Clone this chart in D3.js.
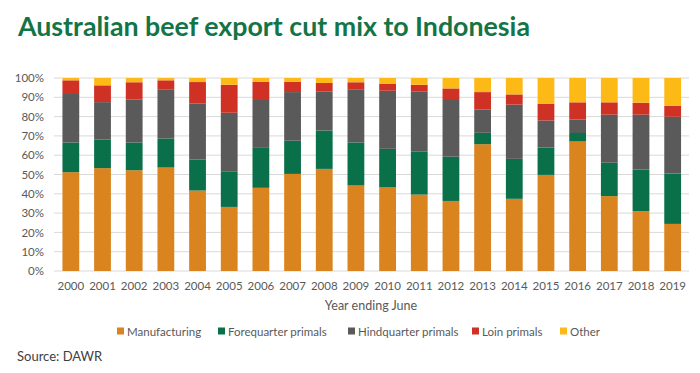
<!DOCTYPE html>
<html>
<head>
<meta charset="utf-8">
<script src="https://cdn.jsdelivr.net/npm/d3@7"></script>
<style>
  body { margin: 0; background: #ffffff; }
  svg { display: block; font-family: Lato, "Open Sans", sans-serif; }
</style>
</head>
<body>
<svg id="chart" width="700" height="373"></svg>
<script>
// data (percent of volume)
const years = ['2000','2001','2002','2003','2004','2005','2006','2007','2008','2009',
               '2010','2011','2012','2013','2014','2015','2016','2017','2018','2019'];
const manufacturing = [51.2,53.3,52.2,53.6,41.7,33.2,43.1,50.3,52.9,44.3,43.3,39.6,36.3,65.7,37.4,49.8,67.1,38.8,31.0,24.4];
const forequarter   = [15.4,14.9,14.4,15.1,16.1,18.2,20.7,17.2,19.9,22.3,20.0,22.2,22.9, 5.9,20.7,14.2, 4.4,17.3,21.6,26.1];
const hindquarter   = [25.6,19.3,22.3,25.2,28.9,30.6,24.8,25.2,20.1,27.3,30.1,31.1,29.9,12.1,28.1,14.0, 7.0,24.9,28.4,29.4];
const loin          = [ 6.6, 8.7, 8.9, 4.9,11.2,14.5, 9.5, 5.4, 4.5, 3.9, 3.7, 3.6, 5.5, 9.0, 5.3, 8.7, 8.9, 6.4, 6.2, 5.7];
const other         = [ 1.2, 3.8, 2.2, 1.2, 2.1, 3.5, 1.9, 1.9, 2.6, 2.2, 2.9, 3.5, 5.4, 7.3, 8.5,13.3,12.6,12.6,12.8,14.4];
const seriesNames = ['Manufacturing','Forequarter primals','Hindquarter primals','Loin primals','Other'];
const yTicks = [0,10,20,30,40,50,60,70,80,90,100];

const colors = ['#d9841e', '#0a704a', '#5a5a5a', '#cf3124', '#fdba17'];
const seriesValues = [manufacturing, forequarter, hindquarter, loin, other];

const rows = years.map(function (y, i) {
    let row = { year: y };
    seriesNames.forEach(function (s, k) { row[s] = seriesValues[k][i]; });
    return row;
});

const svg = d3.select('#chart');

// title
svg.append('text')
    .attr('x', 18).attr('y', 36)
    .attr('font-size', 27).attr('font-weight', 700)
    .attr('fill', '#137446')
    .attr('textLength', 512).attr('lengthAdjust', 'spacingAndGlyphs')
    .text('Australian beef export cut mix to Indonesia');

const x = d3.scaleBand().domain(years).range([55, 688.5]).paddingInner(0.47).paddingOuter(0.235);
const y = d3.scaleLinear().domain([0, 100]).range([271, 78]);

// grid lines
svg.append('g').selectAll('line')
    .data(yTicks)
    .enter().append('line')
    .attr('x1', 54).attr('x2', 689)
    .attr('y1', d => y(d)).attr('y2', d => y(d))
    .attr('stroke', '#d9d9d9').attr('stroke-width', 1);

// y axis labels
const yAxis = svg.append('g')
    .attr('transform', 'translate(48,0)')
    .call(d3.axisLeft(y).tickValues(yTicks).tickFormat(d => d + '%').tickSize(0).tickPadding(4));
yAxis.select('.domain').remove();
yAxis.selectAll('text').attr('font-size', 11.5).attr('fill', '#595959').attr('font-family', 'Lato, sans-serif');

// stacked bars
const stack = d3.stack().keys(seriesNames);
const layers = stack(rows);

svg.append('g').selectAll('g')
    .data(layers)
    .enter().append('g')
    .attr('fill', (d, i) => colors[i])
    .selectAll('rect')
    .data(d => d)
    .enter().append('rect')
    .attr('x', d => x(d.data.year))
    .attr('width', x.bandwidth())
    .attr('y', d => y(d[1]))
    .attr('height', d => y(d[0]) - y(d[1]));

// x axis
const xAxis = svg.append('g')
    .attr('transform', 'translate(0,271)')
    .call(d3.axisBottom(x).tickSize(0).tickPadding(11));
xAxis.select('.domain').remove();
xAxis.selectAll('text').attr('font-size', 11.5).attr('fill', '#595959').attr('font-family', 'Lato, sans-serif');

svg.append('text')
    .attr('x', 371).attr('y', 310)
    .attr('text-anchor', 'middle')
    .attr('font-size', 12.5).attr('fill', '#595959')
    .text('Year ending June');

// legend
const legendX = [117, 218, 348, 472, 560];
const legend = svg.append('g').selectAll('g')
    .data(seriesNames)
    .enter().append('g')
    .attr('transform', (d, i) => 'translate(' + legendX[i] + ',331)');
legend.append('rect')
    .attr('x', 0).attr('y', -3.5).attr('width', 7).attr('height', 7)
    .attr('fill', (d, i) => colors[i]);
legend.append('text')
    .attr('x', 10).attr('y', 4.5)
    .attr('font-size', 11.5).attr('fill', '#595959')
    .text(d => d);

// source
svg.append('text')
    .attr('x', 17).attr('y', 361)
    .attr('font-size', 13).attr('fill', '#404040')
    .text('Source: DAWR');
</script>
</body>
</html>
